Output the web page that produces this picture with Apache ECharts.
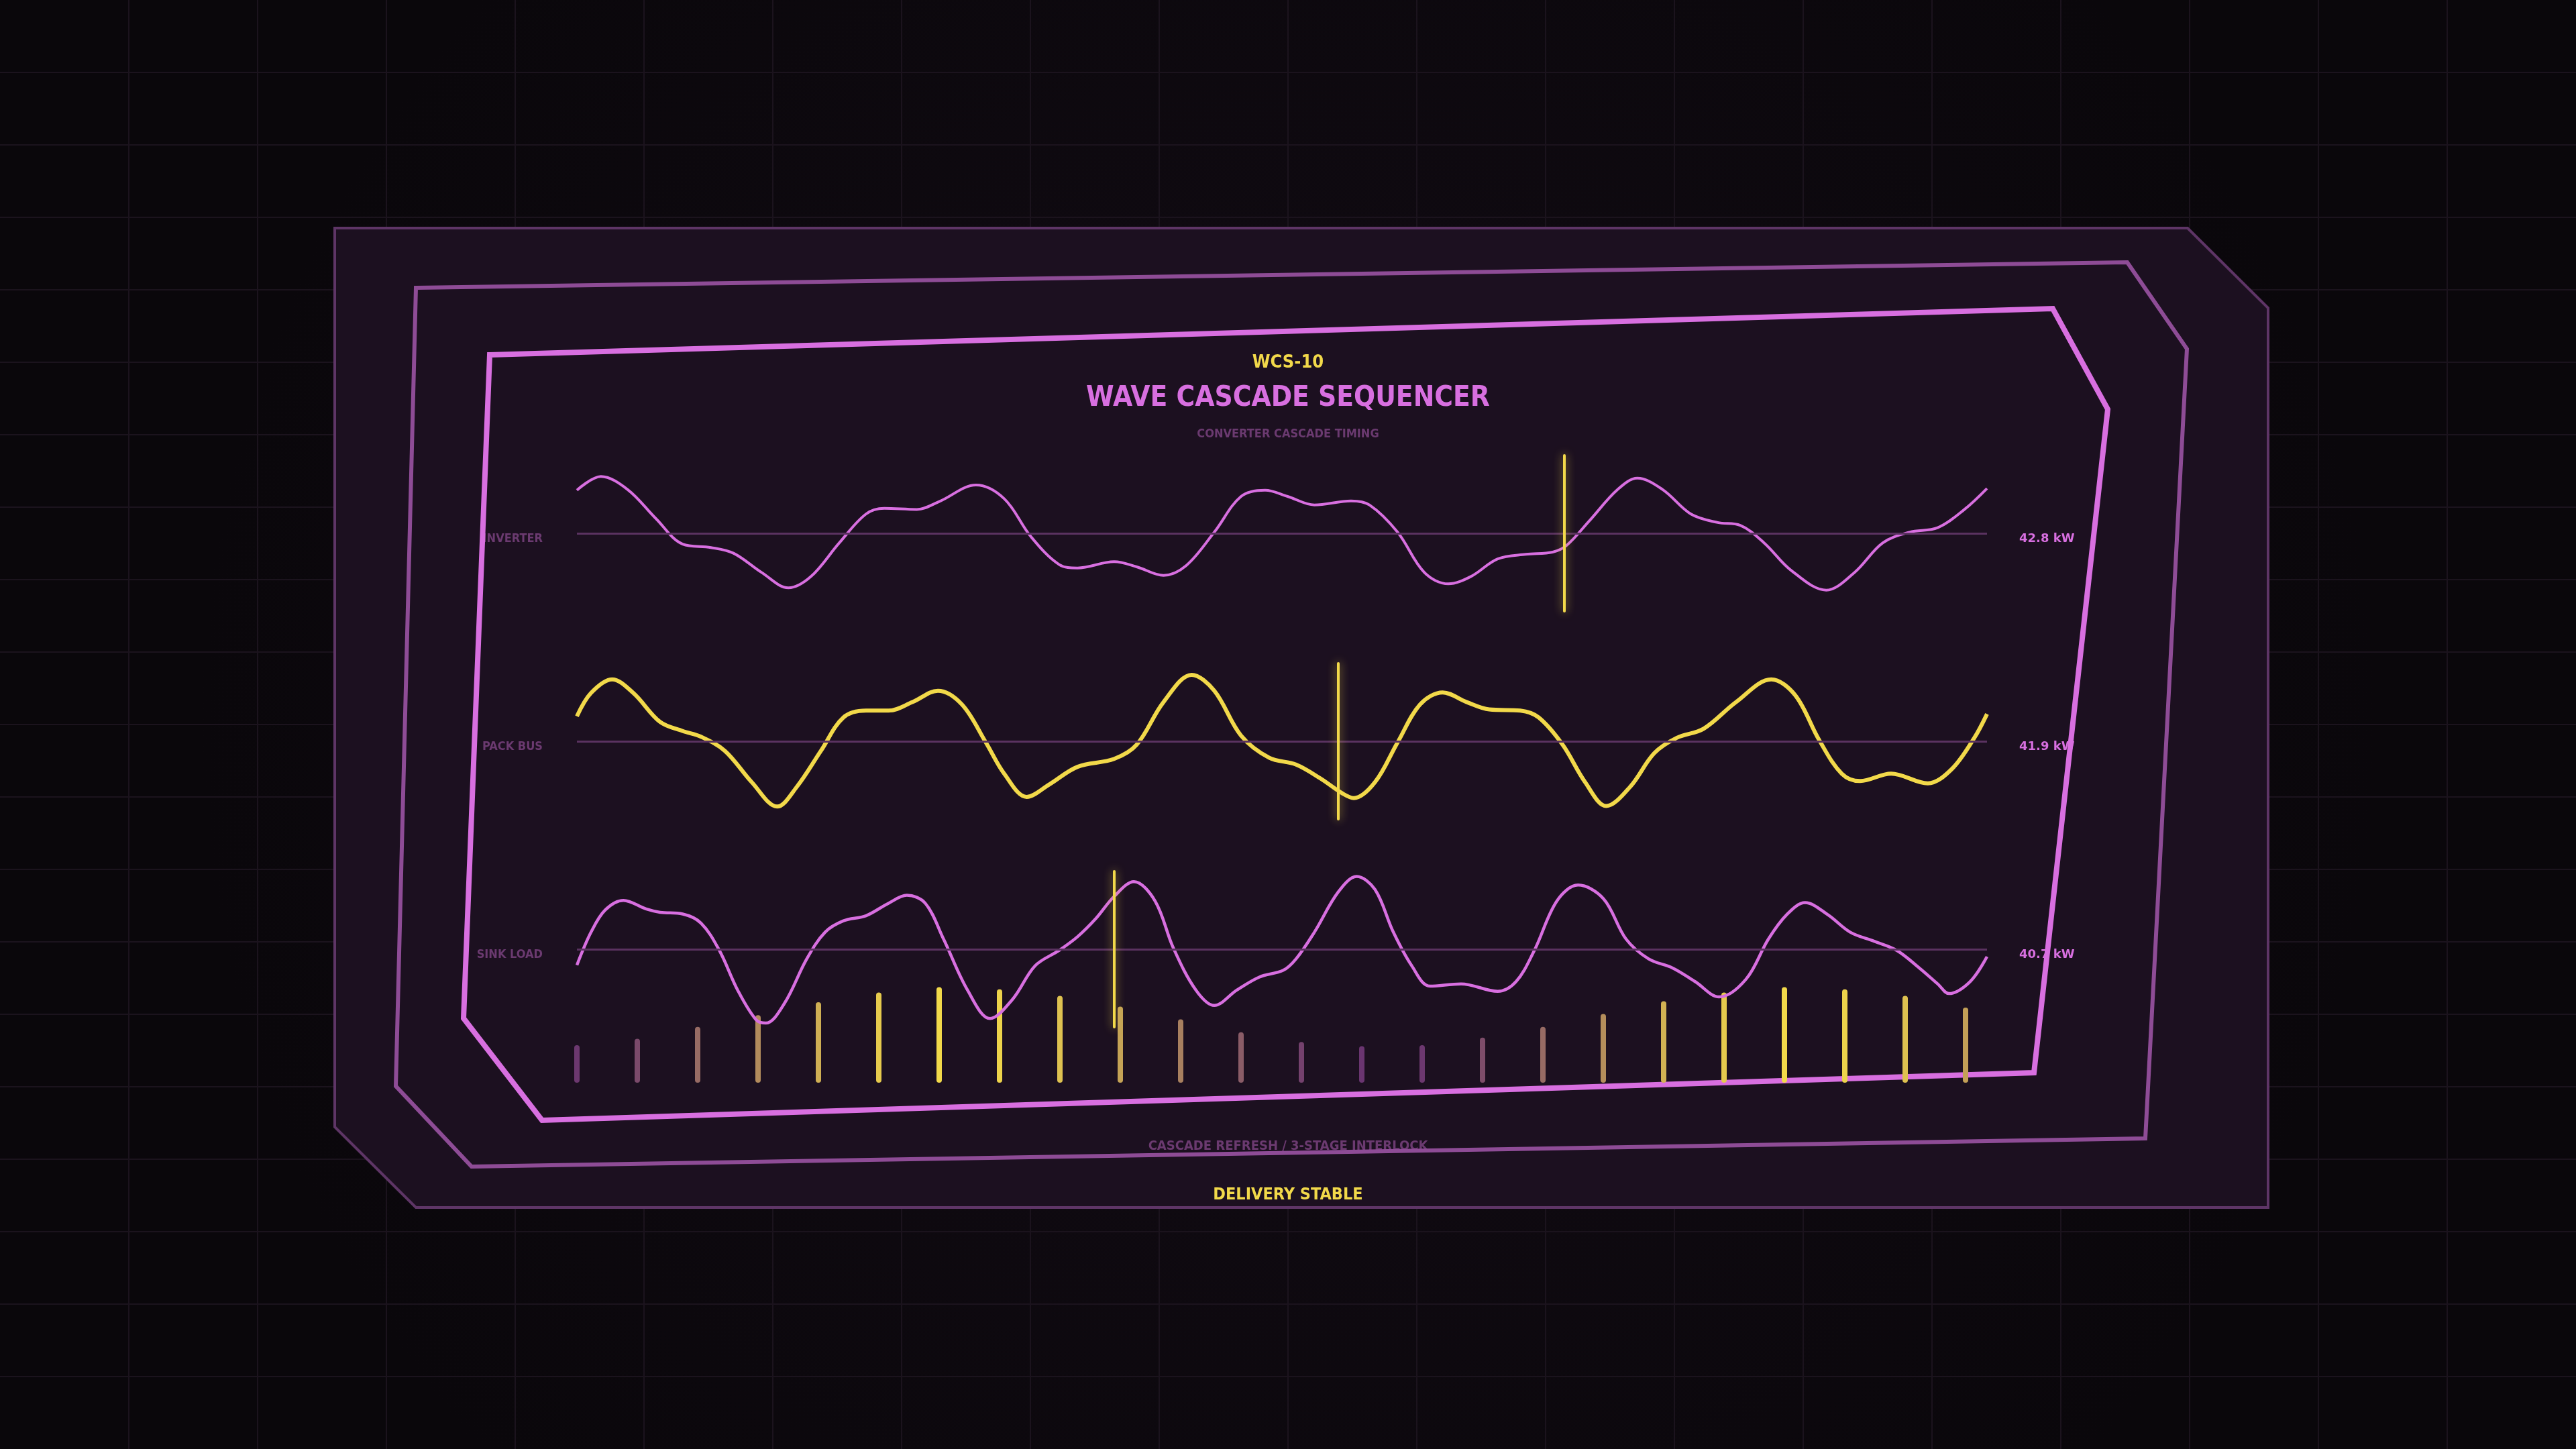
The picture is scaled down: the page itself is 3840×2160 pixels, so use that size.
<!DOCTYPE html>
<html>
<head>
<meta charset="utf-8">
<title>Wave Cascade Sequencer</title>
<script src="https://cdn.jsdelivr.net/npm/echarts@6/dist/echarts.min.js"></script>
<style>
  html, body { margin: 0; padding: 0; background: #0d090e; }
  #chart { width: 3840px; height: 2160px; }
</style>
</head>
<body>
<div id="chart"></div>
<script>
// timeline position (0-100) / deviation from nominal
const inverterWave = [
  [0, 0.76], [1.7, 1.00], [3.6, 0.77], [5.6, 0.26], [7.5, -0.19], [9.5, -0.25], [11.1, -0.35],
  [13.1, -0.69], [15.0, -0.96], [16.6, -0.76], [18.6, -0.17], [20.5, 0.34], [21.8, 0.44],
  [24.1, 0.42], [25.7, 0.56], [28.3, 0.85], [30.3, 0.61], [32.2, -0.06], [34.2, -0.55],
  [35.5, -0.61], [38.1, -0.50], [39.7, -0.59], [41.6, -0.74], [43.2, -0.57], [45.2, 0.02],
  [47.1, 0.65], [48.8, 0.76], [50.4, 0.65], [52.3, 0.50], [54.9, 0.57], [56.2, 0.50],
  [58.2, 0.02], [60.1, -0.69], [61.8, -0.89], [63.4, -0.76], [65.3, -0.45], [67.3, -0.37],
  [69.2, -0.33], [70.2, -0.21], [71.8, 0.22], [73.8, 0.77], [75.2, 0.97], [77.0, 0.77],
  [79.0, 0.34], [80.9, 0.19], [82.5, 0.14], [84.2, -0.17], [86.1, -0.65], [88.6, -1.00],
  [90.6, -0.69], [92.6, -0.17], [94.5, 0.02], [96.5, 0.10], [98.4, 0.42], [100, 0.79]
];

const packBusWave = [
  [0, 0.44], [1.0, 0.85], [2.5, 1.09], [4.0, 0.85], [5.9, 0.34], [7.5, 0.18], [8.8, 0.08],
  [10.5, -0.17], [12.4, -0.72], [14.2, -1.15], [15.6, -0.80], [17.3, -0.17], [18.9, 0.42],
  [20.5, 0.54], [22.1, 0.54], [23.8, 0.69], [25.6, 0.89], [27.3, 0.65], [29.0, -0.02],
  [30.3, -0.57], [31.9, -0.98], [33.5, -0.76], [35.5, -0.45], [38.1, -0.31], [39.7, -0.06],
  [41.6, 0.69], [43.6, 1.17], [45.2, 0.89], [47.1, 0.10], [49.1, -0.29], [51.0, -0.41],
  [52.7, -0.65], [54.3, -0.92], [55.1, -1.00], [56.6, -0.72], [58.2, -0.02], [59.8, 0.65],
  [61.4, 0.86], [63.1, 0.69], [64.7, 0.56], [66.9, 0.54], [68.2, 0.42], [69.9, -0.06],
  [71.5, -0.72], [73.0, -1.14], [74.7, -0.80], [76.4, -0.21], [78.0, 0.06], [79.9, 0.22],
  [82.2, 0.69], [84.7, 1.09], [86.4, 0.81], [88.1, 0.02], [89.7, -0.57], [91.0, -0.70],
  [93.2, -0.57], [95.8, -0.74], [97.5, -0.49], [99.1, 0.06], [100, 0.48]
];

const sinkLoadWave = [
  [0, -0.28], [1.0, 0.30], [2.0, 0.69], [3.3, 0.86], [4.9, 0.71], [5.9, 0.65], [7.5, 0.62],
  [8.8, 0.46], [10.1, -0.02], [11.4, -0.72], [12.7, -1.24], [13.4, -1.30], [14.7, -0.96],
  [16.3, -0.17], [17.6, 0.30], [18.9, 0.50], [20.5, 0.59], [22.1, 0.81], [23.4, 0.95],
  [24.7, 0.81], [26.0, 0.18], [27.7, -0.72], [29.3, -1.22], [30.9, -0.88], [32.5, -0.29],
  [34.2, -0.02], [35.5, 0.22], [36.8, 0.54], [38.1, 0.93], [39.5, 1.19], [41.0, 0.85],
  [42.3, 0.02], [43.9, -0.72], [45.2, -0.99], [46.8, -0.72], [48.4, -0.49], [50.1, -0.37],
  [51.0, -0.17], [52.3, 0.30], [54.0, 1.01], [55.3, 1.28], [56.6, 1.05], [57.9, 0.30],
  [59.2, -0.29], [60.5, -0.65], [62.7, -0.61], [65.3, -0.74], [66.6, -0.57], [67.9, -0.02],
  [69.5, 0.85], [71.0, 1.13], [72.8, 0.89], [74.4, 0.18], [76.0, -0.17], [77.7, -0.33],
  [79.3, -0.57], [81.0, -0.84], [82.9, -0.53], [84.5, 0.18], [85.8, 0.61], [87.1, 0.82],
  [88.7, 0.61], [90.3, 0.30], [92.0, 0.14], [93.6, -0.02], [95.2, -0.33], [96.5, -0.61],
  [97.3, -0.78], [98.8, -0.57], [100, -0.13]
];

const rowNames = ['INVERTER', 'PACK BUS', 'SINK LOAD'];
const rowReadouts = ['42.8 kW', '41.9 kW', '40.7 kW'];
const cascadeCursor = [70.0, 54.0, 38.1];

const stepLabels = ['01', '02', '03', '04', '05', '06', '07', '08', '09', '10', '11', '12',
  '13', '14', '15', '16', '17', '18', '19', '20', '21', '22', '23', '24'];
const stepLoad = [35, 41, 52, 63, 75, 84, 89, 87, 81, 71, 59, 47,
  38, 34, 35, 42, 52, 64, 76, 84, 89, 87, 81, 70];

const PINK = '#d86fe0';
const YELLOW = '#f2d94a';
const DIM = '#6b3a70';
const PANEL = '#1c1020';
const COND = '"DejaVu Sans Condensed", "Liberation Sans Narrow", "DejaVu Sans", sans-serif';
const WIDE = '"DejaVu Sans", Verdana, sans-serif';

const chart = echarts.init(document.getElementById('chart'));

// row layout: baselines at 795 / 1105 / 1415, rows 232 px tall
const rowTops = [679, 989, 1299];
const rowHalf = 1.37;

function textEl(text, x, y, size, color, align, family, z) {
  return {
    type: 'text', x: x, y: y, z: z == null ? 0 : z,
    style: {
      text: text, fill: color, fontSize: size, fontWeight: 'bold',
      fontFamily: family || COND, align: align || 'center', verticalAlign: 'middle'
    }
  };
}

// background grid
const graphics = [];
for (let i = 1; i < 20; i++) {
  graphics.push({ type: 'line', z: 0, shape: { x1: i * 192, y1: 0, x2: i * 192, y2: 2160 },
    style: { stroke: '#1b131d', lineWidth: 2 } });
  graphics.push({ type: 'line', z: 0, shape: { x1: 0, y1: i * 108, x2: 3840, y2: i * 108 },
    style: { stroke: '#1b131d', lineWidth: 2 } });
}

// outer panel
graphics.push({
  type: 'polygon', z: 0,
  shape: { points: [[499, 340], [3261, 340], [3381, 459], [3381, 1800], [620, 1800], [499, 1680]] },
  style: { fill: PANEL, stroke: '#5e3566', lineWidth: 4, lineJoin: 'miter' }
});

// texts (sit under the frame strokes)
graphics.push(textEl('WCS-10', 1920, 541, 27, YELLOW));
graphics.push(textEl('WAVE CASCADE SEQUENCER', 1920, 594, 42, PINK));
graphics.push(textEl('CONVERTER CASCADE TIMING', 1920, 647, 18, DIM));
graphics.push(textEl('CASCADE REFRESH / 3-STAGE INTERLOCK', 1920, 1709, 20, DIM));
graphics.push(textEl('DELIVERY STABLE', 1920, 1781, 25, YELLOW));
rowNames.forEach((name, i) => {
  const base = rowTops[i] + 116;
  graphics.push(textEl(name, 809, base + 8, 18, DIM, 'right'));
  graphics.push(textEl(rowReadouts[i], 3010, base + 8, 18, PINK, 'left', WIDE));
});

// middle + inner frames
graphics.push({
  type: 'polygon', z: 1,
  shape: { points: [[620, 429], [3171, 391], [3260, 520], [3198, 1697], [703, 1739], [590, 1619]] },
  style: { fill: 'none', stroke: '#8e4c96', lineWidth: 6, lineJoin: 'miter' }
});
graphics.push({
  type: 'polygon', z: 1,
  shape: { points: [[730, 529], [3060, 460], [3142, 610], [3032, 1599], [808, 1670], [691, 1518]] },
  style: { fill: 'none', stroke: PINK, lineWidth: 8, lineJoin: 'miter' }
});

const waves = [inverterWave, packBusWave, sinkLoadWave];
const waveColors = [PINK, YELLOW, PINK];
const waveWidths = [4, 6, 4.5];

const grids = rowTops.map(top => ({ left: 860, right: 878, top: top, height: 232 }));
grids.push({ left: 815, right: 865, top: 1454, bottom: 546 });

const xAxes = rowTops.map((t, i) => ({ type: 'value', gridIndex: i, min: 0, max: 100, show: false }));
xAxes.push({ type: 'category', gridIndex: 3, data: stepLabels, show: false });
const yAxes = rowTops.map((t, i) => ({ type: 'value', gridIndex: i, min: -rowHalf, max: rowHalf, show: false }));
yAxes.push({ type: 'value', gridIndex: 3, min: 0, max: 100, show: false });

const series = waves.map((wave, i) => ({
  type: 'line',
  xAxisIndex: i, yAxisIndex: i,
  data: wave,
  smooth: 0.35,
  showSymbol: false,
  lineStyle: { color: waveColors[i], width: waveWidths[i] },
  markLine: {
    silent: true,
    symbol: 'none',
    label: { show: false },
    data: [
      { yAxis: 0, lineStyle: { color: '#5a3260', width: 3, type: 'solid' } },
      { xAxis: cascadeCursor[i], lineStyle: { color: YELLOW, width: 4, type: 'solid',
        shadowBlur: 14, shadowColor: 'rgba(242,217,74,0.7)', cap: 'round' } }
    ]
  },
  z: 3
}));

series.push({
  type: 'bar',
  xAxisIndex: 3, yAxisIndex: 3,
  data: stepLoad,
  barWidth: 8,
  itemStyle: { borderRadius: 4 },
  z: 2
});

chart.setOption({
  backgroundColor: {
    type: 'radial', x: 0.5, y: 0.5, r: 0.75,
    colorStops: [{ offset: 0, color: '#130c15' }, { offset: 1, color: '#0a070b' }]
  },
  animation: false,
  graphic: { elements: graphics },
  grid: grids,
  xAxis: xAxes,
  yAxis: yAxes,
  visualMap: {
    show: false,
    seriesIndex: 3,
    dimension: 1,
    min: 34,
    max: 89,
    inRange: { color: ['#6a3570', YELLOW] }
  },
  series: series
});
</script>
</body>
</html>
